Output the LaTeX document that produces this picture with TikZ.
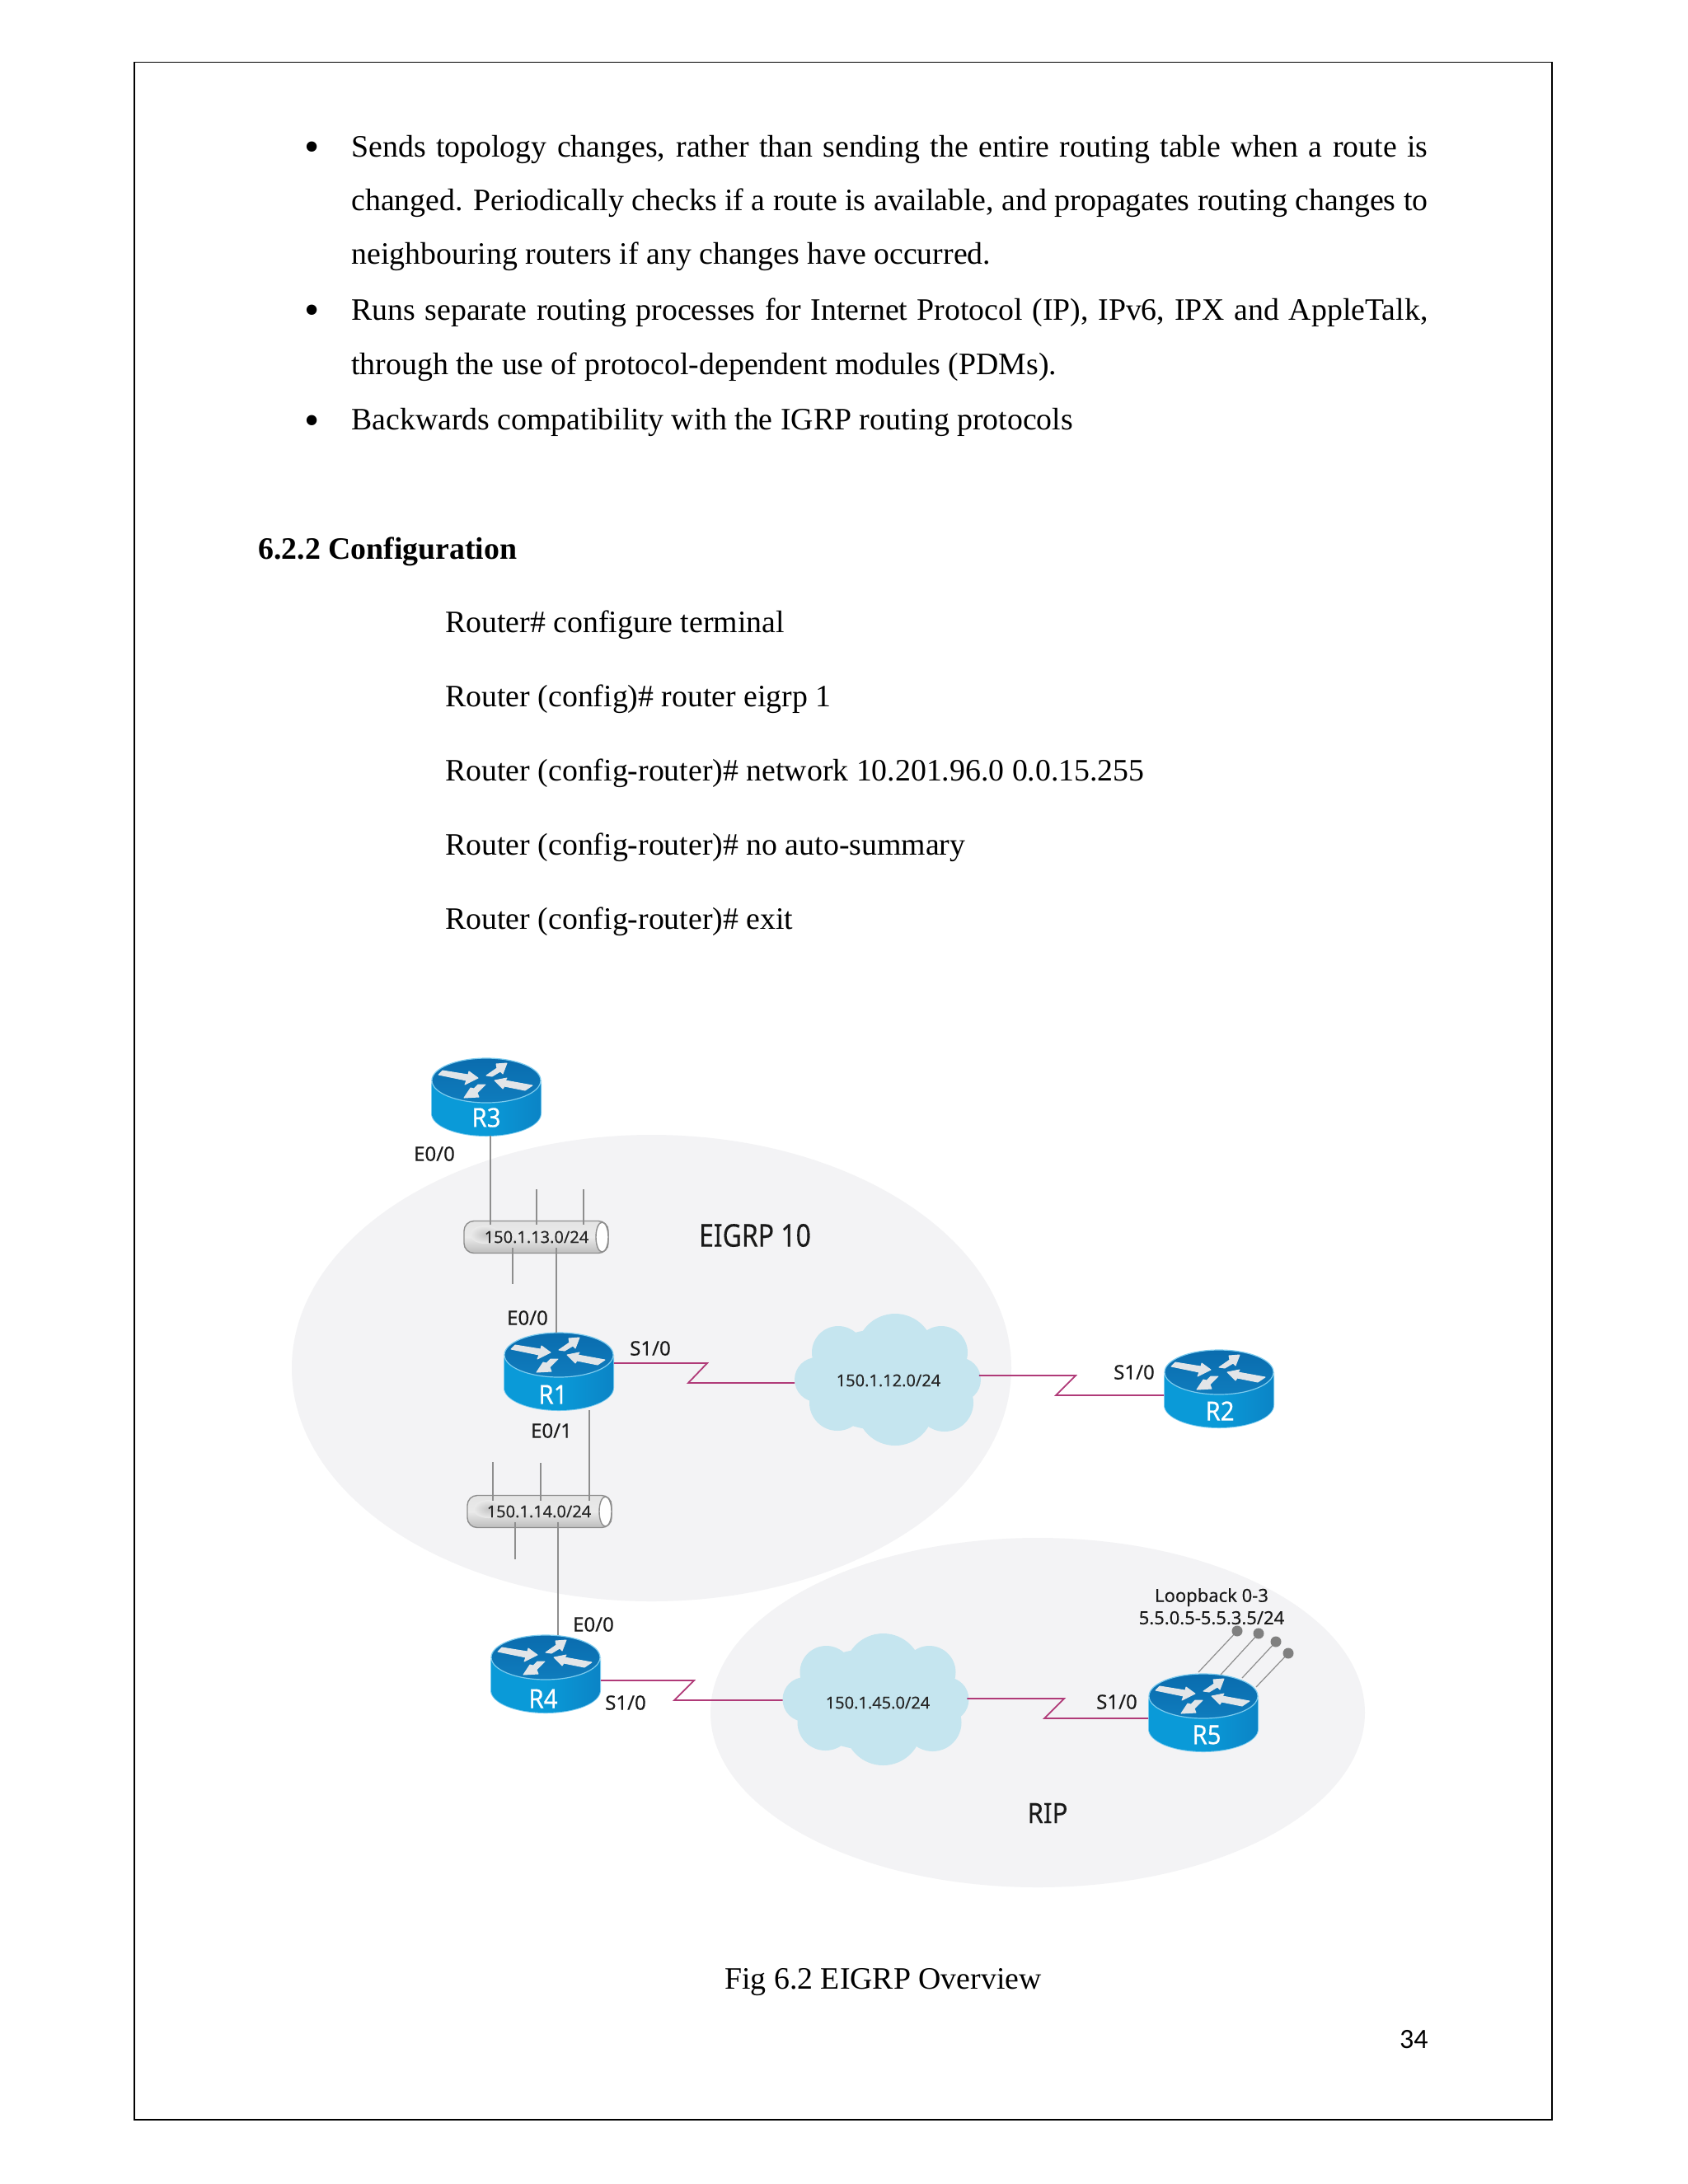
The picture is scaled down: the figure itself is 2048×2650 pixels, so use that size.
\documentclass[tikz,border=0pt]{standalone}
\usepackage{fontspec}
\usepackage{graphicx}
\setmainfont{Liberation Serif}
\newfontfamily\diafont[FakeBold=0.12]{Noto Sans}
\newfontfamily\diabold[FakeBold=0.35]{Noto Sans}
\newfontfamily\pagefont{Carlito}
\usetikzlibrary{calc}
\definecolor{zonegray}{HTML}{F3F3F5}
\definecolor{cloudblue}{HTML}{C5E5EF}
\definecolor{serialpink}{HTML}{B03A78}
\definecolor{tapgray}{HTML}{8E8E8E}
\definecolor{rtop}{HTML}{0A6CAE}
\definecolor{rtopb}{HTML}{0F7CBD}
\definecolor{rside}{HTML}{0A9AD8}
\definecolor{rsideb}{HTML}{0B84C6}
\definecolor{redge}{HTML}{7CCBEE}
\definecolor{rarrow}{HTML}{E2E5E8}
\definecolor{dotgray}{HTML}{808080}
\definecolor{pipetop}{HTML}{E4E4E4}
\definecolor{pipemid}{HTML}{EAEAEA}
\definecolor{pipebot}{HTML}{BDBDBD}
\definecolor{pipeblob}{HTML}{C6C6C6}
\tikzset{
  x=0.5pt,y=-0.5pt,
  bodyline/.style={anchor=base west,inner sep=0pt,font=\fontsize{18.9}{22}\selectfont,text=black},
  bulletmark/.style={anchor=base,inner sep=0pt,font=\fontsize{26}{30}\selectfont},
  dialabel/.style={inner sep=0pt,font=\diafont\fontsize{12}{14}\selectfont,text=black!90},
  netlabel/.style={inner sep=0pt,font=\diafont\fontsize{10}{12}\selectfont,text=black!85},
  routerbox/.style={rectangle,inner sep=0pt,minimum width=66.5pt,minimum height=47pt},
  routertext/.style={inner sep=0pt,text=white,font=\diabold\fontsize{16}{18}\selectfont},
  cloudbox/.style={rectangle,inner sep=0pt,minimum width=111.5pt,minimum height=80pt},
  pipebox/.style={rectangle,inner sep=0pt,minimum width=87.5pt,minimum height=19.5pt},
  tap/.style={draw=tapgray,line width=0.75pt},
  serial/.style={draw=serialpink,line width=0.9pt,line join=miter},
  rarr/.style={fill=rarrow,draw=rarrow,line width=0.5pt,line join=round},
}
\newcommand\myrouter[6]{%
  \begin{scope}[shift={(#2,#3)}]
    \fill[redge] (-67,-20) -- (-67,20) arc[start angle=180,end angle=0,x radius=67,y radius=28] -- (67,-20) arc[start angle=0,end angle=180,x radius=67,y radius=28] -- cycle;
    \shade[left color=rside,right color=rsideb,middle color=rside] (-66,-20) -- (-66,20) arc[start angle=180,end angle=0,x radius=66,y radius=27] -- (66,-20) -- cycle;
    \shade[top color=rtop,bottom color=rtopb,draw=redge,line width=0.6pt] (0,-20) ellipse[x radius=66,y radius=27];
    \fill[rarr] (-53,-32) -- (-22,-27) -- (-21,-31) -- (-10,-23) -- (-26,-15) -- (-24,-20) -- (-58,-27) -- cycle;
    \fill[rarr] (25,-41) -- (12,-40) -- (13,-35) -- (0,-26) -- (7,-25) -- (17,-31) -- (20,-28) -- cycle;
    \fill[rarr] (10,-20) -- (25,-23) -- (23,-20) -- (56,-14) -- (47,-8) -- (22,-13) -- (20,-10) -- cycle;
    \fill[rarr] (-1,-15) -- (-10,-15) -- (-15,-10) -- (-19,-11) -- (-27,1) -- (-9,0) -- (-11,-5) -- cycle;
    \node[routerbox] (#1) at (0,0) {};
    \node[routertext] (#1label) at (#5,#6) {\scalebox{0.92}[1]{#4}};
  \end{scope}}
\newcommand\mycloud[4]{%
  \begin{scope}[shift={(#2,#3)}]
    \fill[cloudblue] (10,-33) circle[radius=47] (-59,-33) circle[radius=32] (66,-33) circle[radius=32]
      (-85,0) circle[radius=27] (87,0) circle[radius=27] (-60,28) circle[radius=34]
      (10,33) circle[radius=47] (70,28) circle[radius=35] (0,0) ellipse[x radius=98,y radius=62];
    \node[cloudbox] (#1) at (0,0) {};
  \end{scope}}
\newcommand\mypipe[3]{%
  \begin{scope}[shift={(#2,#3)}]
    \shade[top color=pipetop,bottom color=pipebot,middle color=pipemid,draw=tapgray,line width=0.7pt,rounded corners=6pt]
      (-87.5,-19.5) rectangle (87.5,19.5);
    \shade[inner color=pipeblob,outer color=pipemid] (-62,-3) ellipse[x radius=18,y radius=11];
    \fill[white,draw=tapgray,line width=0.7pt] (80,0) ellipse[x radius=7.5,y radius=18];
    \node[pipebox] (#1) at (0,0) {};
  \end{scope}}
\newcommand\fullline[3]{\node[bodyline] (#1) at (426,#2) {\makebox[653pt][s]{#3}};}
\begin{document}
\begin{tikzpicture}
\useasboundingbox (0,0) rectangle (2048,2650);
\fill[white] (0,0) rectangle (2048,2650);
\draw[black,line width=0.8pt] (163,75.5) rectangle (1883,2572);

% page text
\node[bulletmark] (b1) at (379,195) {•};
\fullline{l1}{190}{Sends topology changes, rather than sending the entire routing table when a route is}
\fullline{l2}{255}{changed. Periodically checks if a route is available, and propagates routing changes to}
\node[bodyline] (l3) at (426,320) {neighbouring routers if any changes have occurred.};
\node[bulletmark] (b2) at (379,393) {•};
\fullline{l4}{388}{Runs separate routing processes for Internet Protocol (IP), IPv6, IPX and AppleTalk,}
\node[bodyline] (l5) at (426,454) {through the use of protocol-dependent modules (PDMs).};
\node[bulletmark] (b3) at (379,527) {•};
\node[bodyline] (l6) at (426,521) {Backwards compatibility with the IGRP routing protocols};
\node[bodyline,font=\fontsize{18.9}{22}\selectfont\bfseries] (h1) at (313,678) {6.2.2 Configuration};
\node[bodyline] (c1) at (540,767) {Router\# configure terminal};
\node[bodyline] (c2) at (540,857) {Router (config)\# router eigrp 1};
\node[bodyline] (c3) at (540,947) {Router (config-router)\# network 10.201.96.0 0.0.15.255};
\node[bodyline] (c4) at (540,1037) {Router (config-router)\# no auto-summary};
\node[bodyline] (c5) at (540,1127.5) {Router (config-router)\# exit};
\node[bodyline] (fig) at (879,2413) {Fig 6.2 EIGRP Overview};
\node[anchor=base east,inner sep=0pt,font=\pagefont\fontsize{17}{19}\selectfont] (pg) at (1733,2485) {34};

% zones
\fill[zonegray] (790.5,1660) ellipse[x radius=436.5,y radius=283];
\fill[zonegray] (1259,2078) ellipse[x radius=397,y radius=212];

% clouds
\mycloud{c12}{1076}{1674}{}
\mycloud{c45}{1061.5}{2062}{}

% pipes
\mypipe{p13}{650.5}{1501}
\mypipe{p14}{654.5}{1834}

% routers
\myrouter{R3}{590}{1331}{R3}{0}{25}
\myrouter{R1}{678}{1664}{R1}{-7}{28}
\myrouter{R2}{1479}{1685}{R2}{1}{27}
\myrouter{R4}{662}{2031}{R4}{-3}{30}
\myrouter{R5}{1460}{2078}{R5}{4}{27}

% tap coordinates
\coordinate (t13a) at (595,1486);
\coordinate (t13b) at (651,1486);
\coordinate (t13c) at (708,1486);
\coordinate (f13b) at (651,1443);
\coordinate (f13c) at (708,1443);
\coordinate (t13d) at (622,1514);
\coordinate (f13d) at (622,1558);
\coordinate (t13e) at (675,1514);
\coordinate (t14a) at (598,1821);
\coordinate (t14b) at (656,1821);
\coordinate (t14c) at (715,1821);
\coordinate (f14a) at (598,1774);
\coordinate (f14b) at (656,1775);
\coordinate (t14d) at (625,1847);
\coordinate (f14d) at (625,1892);
\coordinate (t14e) at (677,1847);

\draw[tap] (R3.south -| t13a) -- (t13a);
\draw[tap] (f13b) -- (t13b);
\draw[tap] (f13c) -- (t13c);
\draw[tap] (t13d) -- (f13d);
\draw[tap] (t13e) -- (t13e |- R1.north);
\draw[tap] (R1.south -| t14c) -- (t14c);
\draw[tap] (f14a) -- (t14a);
\draw[tap] (f14b) -- (t14b);
\draw[tap] (t14d) -- (f14d);
\draw[tap] (t14e) -- (t14e |- R4.north);

% serial links
\coordinate (s1a) at (858,1654);
\coordinate (s1b) at (835,1678);
\coordinate (s2a) at (1305,1669);
\coordinate (s2b) at (1281,1693);
\coordinate (s3a) at (842,2039);
\coordinate (s3b) at (818,2063);
\coordinate (s4a) at (1291,2061);
\coordinate (s4b) at (1267,2085);
\draw[serial] (s1a -| R1.east) -- (s1a) -- (s1b) -- (s1b -| c12.west);
\draw[serial] (s2a -| c12.east) -- (s2a) -- (s2b) -- (s2b -| R2.west);
\draw[serial] (s3a -| R4.east) -- (s3a) -- (s3b) -- (s3b -| c45.west);
\draw[serial] (s4a -| c45.east) -- (s4a) -- (s4b) -- (s4b -| R5.west);

% loopbacks
\coordinate (lb1) at (1454,2029);
\coordinate (lb2) at (1481,2032);
\coordinate (lb3) at (1507,2036);
\coordinate (lb4) at (1524,2047);
\coordinate (ld1) at (1501,1979);
\coordinate (ld2) at (1527,1982);
\coordinate (ld3) at (1548,1992);
\coordinate (ld4) at (1563,2006);
\draw[tap,line width=0.6pt] (lb1) -- (ld1) (lb2) -- (ld2) (lb3) -- (ld3) (lb4) -- (ld4);
\fill[dotgray] (ld1) circle[radius=6.5] (ld2) circle[radius=6.5] (ld3) circle[radius=6.5] (ld4) circle[radius=6.5];

% labels
\node[netlabel] (n13) at (651,1501) {150.1.13.0/24};
\node[netlabel] (n14) at (654,1834) {150.1.14.0/24};
\node[netlabel] (n12) at (1078,1675) {150.1.12.0/24};
\node[netlabel] (n45) at (1065,2066) {150.1.45.0/24};
\node[dialabel] (e3) at (527,1400) {E0/0};
\node[dialabel] (e1) at (640,1599) {E0/0};
\node[dialabel] (e11) at (669,1736) {E0/1};
\node[dialabel] (e4) at (720,1971) {E0/0};
\node[dialabel] (s1) at (789,1636) {S1/0};
\node[dialabel] (s2) at (1376,1665) {S1/0};
\node[dialabel] (s4) at (759,2066) {S1/0};
\node[dialabel] (s5) at (1355,2065) {S1/0};
\node[dialabel,font=\diafont\fontsize{11}{13}\selectfont] (lo1) at (1470,1938) {Loopback 0-3};
\node[dialabel,font=\diafont\fontsize{11}{13}\selectfont] (lo2) at (1470,1963) {5.5.0.5-5.5.3.5/24};
\node[dialabel,text=black!90,font=\diabold\fontsize{19}{22}\selectfont] (zone1) at (916,1499) {\scalebox{0.84}[1]{EIGRP 10}};
\node[dialabel,text=black!90,font=\diabold\fontsize{17}{20}\selectfont] (zone2) at (1271,2200) {\scalebox{0.92}[1]{RIP}};
\end{tikzpicture}
\end{document}
